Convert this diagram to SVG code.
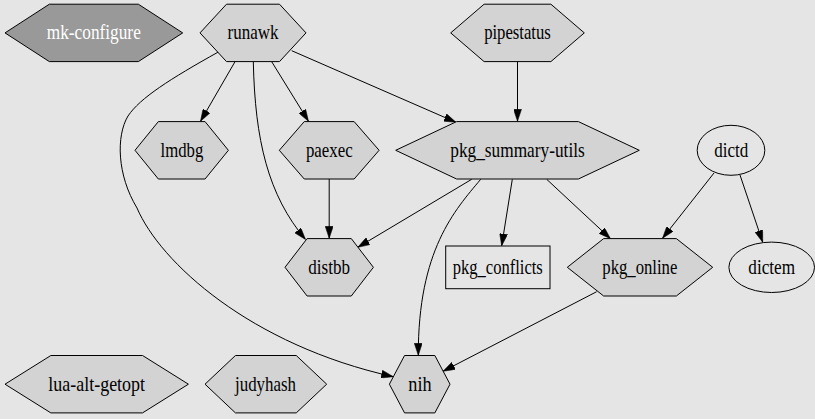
<svg xmlns="http://www.w3.org/2000/svg" width="815" height="419" viewBox="0 0 815 419">
<style>
.n{fill:#d3d3d3;stroke:#000;stroke-width:1}
.w{fill:none;stroke:#000;stroke-width:1}
.d{fill:#999;stroke:#000;stroke-width:1}
text{font-family:"Liberation Serif","Times New Roman",serif;font-size:21px;text-anchor:middle;fill:#000}
text.wt{fill:#fff}
.e path{fill:none;stroke:#000;stroke-width:1;marker-end:url(#ah)}
</style>
<defs>
<marker id="ah" markerUnits="userSpaceOnUse" markerWidth="12" markerHeight="8" refX="12" refY="4" orient="auto">
<path d="M0,0 L12,4 L0,8 z" fill="#000" stroke="#000" stroke-width="0.5"/>
</marker>
</defs>
<rect x="0" y="0" width="815" height="419" fill="#e5e5e5"/>
<g id="edges" class="e">
<path d="M235,61.7 L200.5,121.3"/>
<path d="M271.7,61.7 L308.5,121.3"/>
<path d="M253.3,61.7 C255,140 268,195 305.5,239.5"/>
<path d="M218.3,52 C170,79 140,98 128,116 C116,136 117,175 137,208 C160,262 250,345 393.3,376.7"/>
<path d="M291.7,50.7 L456,122.3"/>
<path d="M517.5,61.7 L517.5,121.3"/>
<path d="M329.2,179 L329.2,238.3"/>
<path d="M471.7,179.3 L357.8,247.3"/>
<path d="M480.7,179.3 C455,210 418,250 418.3,355.3"/>
<path d="M512.3,179.3 L501.7,245.7"/>
<path d="M546.7,179.3 L610.5,238.7"/>
<path d="M714,173 L662.5,238.3"/>
<path d="M740,175 L762.7,242.3"/>
<path d="M596.7,291.7 L443,371.3"/>
</g>
<g id="mk-configure"><polygon class="d" points="5,32.9 49.35,4.2 138.35,4.2 182.7,32.9 138.35,61.6 49.35,61.6"/><text class="wt" x="93.8" y="39.2" textLength="94" lengthAdjust="spacingAndGlyphs">mk-configure</text></g>
<g id="runawk"><polygon class="n" points="200,32.9 226.5,4.2 279.5,4.2 306,32.9 279.5,61.6 226.5,61.6"/><text x="253" y="39.2" textLength="51" lengthAdjust="spacingAndGlyphs">runawk</text></g>
<g id="pipestatus"><polygon class="n" points="450.7,32.9 484.1,4.2 550.9,4.2 584.3,32.9 550.9,61.6 484.1,61.6"/><text x="517.5" y="39.2" textLength="66.7" lengthAdjust="spacingAndGlyphs">pipestatus</text></g>
<g id="lmdbg"><polygon class="n" points="135,150.3 158.35,121.6 205.05,121.6 228.4,150.3 205.05,179 158.35,179"/><text x="181.9" y="156.6" textLength="42.7" lengthAdjust="spacingAndGlyphs">lmdbg</text></g>
<g id="paexec"><polygon class="n" points="279.3,150.3 304.25,121.6 354.15,121.6 379.1,150.3 354.15,179 304.25,179"/><text x="329.3" y="156.6" textLength="46.7" lengthAdjust="spacingAndGlyphs">paexec</text></g>
<g id="pkg_summary-utils"><polygon class="n" points="395.7,150.3 456.6,121.6 578.4,121.6 639.3,150.3 578.4,179 456.6,179"/><text x="517.5" y="156.6" textLength="134.5" lengthAdjust="spacingAndGlyphs">pkg_summary-utils</text></g>
<g id="dictd"><ellipse class="w" cx="731" cy="150.3" rx="33.8" ry="25"/><text x="731.3" y="156.6" textLength="34" lengthAdjust="spacingAndGlyphs">dictd</text></g>
<g id="distbb"><polygon class="n" points="285,267.3 307.1,238.6 351.3,238.6 373.4,267.3 351.3,296 307.1,296"/><text x="329.2" y="273.6" textLength="41.7" lengthAdjust="spacingAndGlyphs">distbb</text></g>
<g id="pkg_conflicts"><rect class="w" x="445.7" y="246" width="104.3" height="42.7"/><text x="497.8" y="273.6" textLength="90" lengthAdjust="spacingAndGlyphs">pkg_conflicts</text></g>
<g id="pkg_online"><polygon class="n" points="567.3,267.3 603.65,238.6 676.35,238.6 712.7,267.3 676.35,296 603.65,296"/><text x="639.8" y="273.6" textLength="75" lengthAdjust="spacingAndGlyphs">pkg_online</text></g>
<g id="dictem"><ellipse class="w" cx="771.7" cy="267.3" rx="42.8" ry="25.2"/><text x="771.7" y="273.6" textLength="46.7" lengthAdjust="spacingAndGlyphs">dictem</text></g>
<g id="lua-alt-getopt"><polygon class="n" points="5,384.2 50.85,355.5 142.55,355.5 188.4,384.2 142.55,412.9 50.85,412.9"/><text x="96.7" y="390.5" textLength="96.7" lengthAdjust="spacingAndGlyphs">lua-alt-getopt</text></g>
<g id="judyhash"><polygon class="n" points="205,384.2 235.45,355.5 296.25,355.5 326.7,384.2 296.25,412.9 235.45,412.9"/><text x="265.5" y="390.5" textLength="61" lengthAdjust="spacingAndGlyphs">judyhash</text></g>
<g id="nih"><polygon class="n" points="389.4,384.2 404.55,355.5 434.85,355.5 450,384.2 434.85,412.9 404.55,412.9"/><text x="420" y="390.5" textLength="23.3" lengthAdjust="spacingAndGlyphs">nih</text></g>
</svg>
